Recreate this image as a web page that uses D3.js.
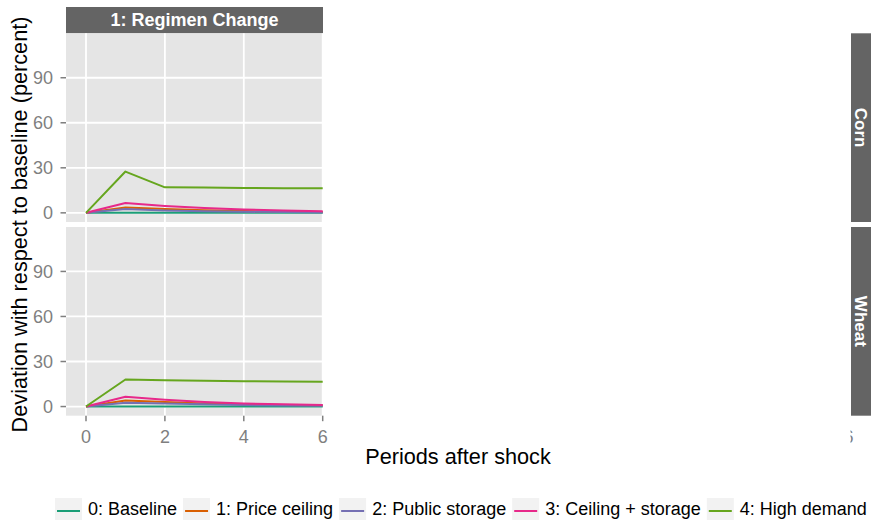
<!DOCTYPE html>
<html>
<head>
<meta charset="utf-8">
<script src="https://cdn.jsdelivr.net/npm/d3@7"></script>
<style>
  body { margin: 0; background: #fff; }
  svg { display: block; font-family: "Liberation Sans", Arial, Helvetica, sans-serif; }
</style>
</head>
<body>
<svg id="chart"></svg>
<script>
// periods after the shock
const periods = [0, 1, 2, 3, 4, 5, 6];
const xTicks = [0, 2, 4, 6];
const yTicks = [0, 30, 60, 90];

const scenarios = ['0: Baseline', '1: Price ceiling', '2: Public storage', '3: Ceiling + storage', '4: High demand'];
const scenarioColors = ['#1B9E77', '#D95F02', '#7570B3', '#E7298A', '#66A61E'];

const crops = ['Corn', 'Wheat'];
const regimeLabel = '1: Regimen Change';

// deviation (percent) per scenario, one array per crop
const cornBaseline = [0, 0, 0, 0, 0, 0, 0];
const cornCeiling = [0, 3.5, 2.5, 1.8, 1.2, 0.8, 0.5];
const cornStorage = [0, 2.5, 1.6, 1.1, 0.7, 0.5, 0.3];
const cornBoth = [0, 6.5, 4.6, 3.2, 2.2, 1.5, 1.0];
const cornHigh = [0, 27.5, 17, 16.8, 16.6, 16.4, 16.3];

const wheatBaseline = [0, 0, 0, 0, 0, 0, 0];
const wheatCeiling = [0, 4, 3, 2, 1.5, 1, 0.8];
const wheatStorage = [0, 2.5, 2, 1.5, 1, 0.7, 0.5];
const wheatBoth = [0, 6.5, 4.5, 3, 2, 1.5, 1];
const wheatHigh = [0, 18, 17.5, 17.1, 16.9, 16.7, 16.5];

const seriesByCrop = {
  Corn: [cornBaseline, cornCeiling, cornStorage, cornBoth, cornHigh],
  Wheat: [wheatBaseline, wheatCeiling, wheatStorage, wheatBoth, wheatHigh]
};

const width = 871, height = 520;
const svg = d3.select('#chart').attr('width', width).attr('height', height);

const panelLeft = 66, panelRight = 323;
const panelTops = [33.3, 227];
const panelH = 188.7;
const stripTop = 7;

const x = d3.scaleLinear().domain([0, 6]).range([86, 322.7]);
const y = d3.scaleLinear().domain([-6.1, 119.6]).range([panelH, 0]);

const gridColor = '#ffffff';
const tickColor = '#7f7f7f';

// top strip
svg.append('rect')
  .attr('x', panelLeft).attr('y', stripTop)
  .attr('width', panelRight - panelLeft).attr('height', panelTops[0] - stripTop)
  .attr('fill', '#646464');
svg.append('text')
  .attr('x', (panelLeft + panelRight) / 2).attr('y', (stripTop + panelTops[0]) / 2 + 6.3)
  .attr('text-anchor', 'middle')
  .attr('font-size', '18px').attr('font-weight', 'bold').attr('fill', '#fff')
  .text(regimeLabel);

const line = d3.line().x((d, i) => x(periods[i])).y(d => y(d));

crops.forEach((crop, ci) => {
  const top = panelTops[ci];
  const g = svg.append('g').attr('transform', `translate(0,${top})`);

  g.append('rect')
    .attr('x', panelLeft).attr('y', 0)
    .attr('width', panelRight - panelLeft).attr('height', panelH)
    .attr('fill', '#e5e5e5');

  // grid
  yTicks.forEach(t => {
    g.append('line')
      .attr('x1', panelLeft).attr('x2', panelRight)
      .attr('y1', y(t)).attr('y2', y(t))
      .attr('stroke', gridColor).attr('stroke-width', 1.8);
  });
  xTicks.forEach(t => {
    g.append('line')
      .attr('x1', x(t)).attr('x2', x(t))
      .attr('y1', 0).attr('y2', panelH)
      .attr('stroke', gridColor).attr('stroke-width', 1.8);
  });

  // series lines
  const clipId = 'clip' + ci;
  g.append('clipPath').attr('id', clipId)
    .append('rect').attr('x', panelLeft).attr('y', 0)
    .attr('width', panelRight - panelLeft).attr('height', panelH);
  const lines = g.append('g').attr('clip-path', `url(#${clipId})`);
  seriesByCrop[crop].forEach((vals, si) => {
    lines.append('path')
      .attr('d', line(vals))
      .attr('fill', 'none')
      .attr('stroke', scenarioColors[si])
      .attr('stroke-width', 2)
      .attr('stroke-linejoin', 'round');
  });

  // y axis ticks and labels
  yTicks.forEach(t => {
    g.append('line')
      .attr('x1', panelLeft - 5.5).attr('x2', panelLeft)
      .attr('y1', y(t)).attr('y2', y(t))
      .attr('stroke', tickColor).attr('stroke-width', 1.5);
    g.append('text')
      .attr('x', panelLeft - 13).attr('y', y(t) + 6.5)
      .attr('text-anchor', 'end')
      .attr('font-size', '18px').attr('fill', tickColor)
      .text(t);
  });

  // right strip
  svg.append('rect')
    .attr('x', 851).attr('y', top)
    .attr('width', 20).attr('height', panelH)
    .attr('fill', '#646464');
  svg.append('text')
    .attr('transform', `translate(${851 + 4},${top + panelH / 2}) rotate(90)`)
    .attr('text-anchor', 'middle')
    .attr('font-size', '17px').attr('font-weight', 'bold').attr('fill', '#fff')
    .text(crop);
});

// x axis ticks and labels
const axisTop = panelTops[1] + panelH;
xTicks.forEach(t => {
  svg.append('line')
    .attr('x1', x(t)).attr('x2', x(t))
    .attr('y1', axisTop).attr('y2', axisTop + 5.5)
    .attr('stroke', tickColor).attr('stroke-width', 1.5);
  svg.append('text')
    .attr('x', x(t)).attr('y', axisTop + 27.5)
    .attr('text-anchor', 'middle')
    .attr('font-size', '18px').attr('fill', tickColor)
    .text(t);
});

// stray, mostly hidden tick label at the far right
svg.append('clipPath').attr('id', 'strayClip')
  .append('rect').attr('x', 850.5).attr('y', axisTop).attr('width', 20).attr('height', 40);
svg.append('text')
  .attr('clip-path', 'url(#strayClip)')
  .attr('x', 848.5).attr('y', axisTop + 27.5)
  .attr('text-anchor', 'middle')
  .attr('font-size', '18px').attr('fill', tickColor)
  .text(xTicks[xTicks.length - 1]);

// axis titles
svg.append('text')
  .attr('x', 458).attr('y', 464)
  .attr('text-anchor', 'middle')
  .attr('font-size', '21.7px').attr('fill', '#000')
  .text('Periods after shock');

svg.append('text')
  .attr('transform', `translate(27,${(panelTops[0] + axisTop) / 2}) rotate(-90)`)
  .attr('text-anchor', 'middle')
  .attr('font-size', '21.7px').attr('fill', '#000')
  .text('Deviation with respect to baseline (percent)');

// legend
const legend = svg.append('g');
let lx = 55;
const ly = 498;
scenarios.forEach((name, i) => {
  legend.append('rect')
    .attr('x', lx).attr('y', ly)
    .attr('width', 27).attr('height', 22)
    .attr('fill', '#f2f2f2');
  legend.append('line')
    .attr('x1', lx + 2).attr('x2', lx + 25)
    .attr('y1', ly + 13).attr('y2', ly + 13)
    .attr('stroke', scenarioColors[i]).attr('stroke-width', 2);
  const txt = legend.append('text')
    .attr('x', lx + 33).attr('y', ly + 17)
    .attr('font-size', '18px').attr('fill', '#000')
    .text(name);
  lx += 33 + txt.node().getComputedTextLength() + 6;
});
</script>
</body>
</html>
